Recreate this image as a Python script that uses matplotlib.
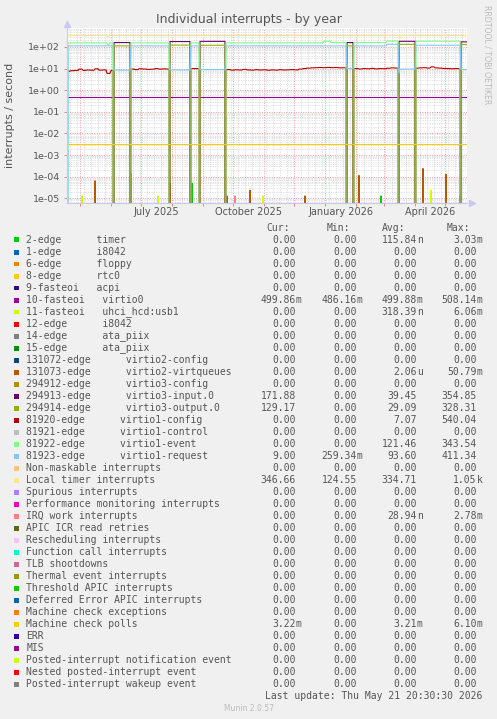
import matplotlib
matplotlib.use("Agg")
import matplotlib.pyplot as plt
import matplotlib.dates as mdates
import matplotlib.ticker as mticker
from matplotlib.patches import Rectangle
import numpy as np

# --- data ---
first_day = "2025-04-18"
last_day = "2026-05-23"

names = [
    "2-edge      timer", "1-edge      i8042", "6-edge      floppy", "8-edge      rtc0",
    "9-fasteoi   acpi", "10-fasteoi   virtio0", "11-fasteoi   uhci_hcd:usb1",
    "12-edge      i8042", "14-edge      ata_piix", "15-edge      ata_piix",
    "131072-edge      virtio2-config", "131073-edge      virtio2-virtqueues",
    "294912-edge      virtio3-config", "294913-edge      virtio3-input.0",
    "294914-edge      virtio3-output.0", "81920-edge      virtio1-config",
    "81921-edge      virtio1-control", "81922-edge      virtio1-event",
    "81923-edge      virtio1-request", "Non-maskable interrupts", "Local timer interrupts",
    "Spurious interrupts", "Performance monitoring interrupts", "IRQ work interrupts",
    "APIC ICR read retries", "Rescheduling interrupts", "Function call interrupts",
    "TLB shootdowns", "Thermal event interrupts", "Threshold APIC interrupts",
    "Deferred Error APIC interrupts", "Machine check exceptions", "Machine check polls",
    "ERR", "MIS", "Posted-interrupt notification event", "Nested posted-interrupt event",
    "Posted-interrupt wakeup event",
]
colors = [
    "#00CC00", "#0066B3", "#FF8000", "#FFCC00", "#330099", "#990099", "#CCFF00", "#FF0000",
    "#808080", "#008F00", "#00487D", "#B35A00", "#B38F00", "#6B006B", "#8FB300", "#B30000",
    "#BEBEBE", "#80FF80", "#80C9FF", "#FFC080", "#FFE680", "#AA80FF", "#EE00CC", "#FF8080",
    "#666600", "#FFBFFF", "#00FFCC", "#CC6699", "#999900",
    "#00CC00", "#0066B3", "#FF8000", "#FFCC00", "#330099", "#990099", "#CCFF00", "#FF0000",
    "#808080",
]
z = "0.00"
cur_vals = [z, z, z, z, z, "499.86m", z, z, z, z, z, z, z, "171.88", "129.17", z, z, z, "9.00",
            z, "346.66", z, z, z, z, z, z, z, z, z, z, z, "3.22m", z, z, z, z, z]
min_vals = [z, z, z, z, z, "486.16m", z, z, z, z, z, z, z, z, z, z, z, z, "259.34m",
            z, "124.55", z, z, z, z, z, z, z, z, z, z, z, z, z, z, z, z, z]
avg_vals = ["115.84n", z, z, z, z, "499.88m", "318.39n", z, z, z, z, "2.06u", z, "39.45", "29.09",
            "7.07", z, "121.46", "93.60", z, "334.71", z, z, "28.94n", z, z, z, z, z, z, z, z,
            "3.21m", z, z, z, z, z]
max_vals = ["3.03m", z, z, z, z, "508.14m", "6.06m", z, z, z, z, "50.79m", z, "354.85", "328.31",
            "540.04", z, "343.54", "411.34", z, "1.05k", z, z, "2.78m", z, z, z, z, z, z, z, z,
            "6.10m", z, z, z, z, z]

# periods where virtio3 is busy and virtio1-event/config are idle
period_start = ["2025-06-04", "2025-07-30", "2025-08-29", "2026-01-23", "2026-03-16", "2026-05-17"]
period_end = ["2025-06-21", "2025-08-20", "2025-09-24", "2026-01-30", "2026-04-02", "2026-05-24"]
virtio3_input = [160, 178, 182, 160, 183, 172]
virtio3_output = [112, 122, 120, 112, 133, 129]
virtio1_request_low = [8.5, 8.7, 9.0, 10.0, 9.5, 9.0]

# normal levels (from date on)
event_dates = ["2025-04-18", "2025-04-19", "2025-05-29", "2025-05-31", "2025-12-31", "2026-01-07", "2026-03-04", "2026-04-02"]
event_vals = [0, 155, 125, 155, 185, 160, 190, 185]
request_dates = ["2025-04-18", "2025-04-19", "2026-03-04", "2026-04-02"]
request_vals = [0, 112, 133, 120]

# virtio1-config, one reading every 4 days
config_every = 4
config_vals = [
    7.6, 8.0, 8.2, 9.5, 8.3, 8.6, 8.4, 9.8, 8.5, 8.7, 6.0, 8.2, 0, 0, 0, 0,
    9.5, 9.0, 9.8, 9.6, 9.2, 9.4, 10.0, 9.5, 9.7, 9.5, 0, 0, 0, 0, 0,
    10.0, 10.0, 9.8, 0, 0, 0, 0, 0, 9.0,
    9.0, 8.5, 8.8, 8.6, 9.2, 8.7, 8.5, 8.9, 8.6, 8.8, 8.4, 8.7, 8.5, 8.9, 8.6, 8.8, 9.0, 8.7,
    9.5, 10.0, 10.5, 10.8, 11.0, 11.2, 11.0, 11.3, 11.0, 11.2, 10.8, 11.0, 0,
    10.0, 10.0, 9.6, 10.0, 9.8, 10.2, 9.7, 10.0, 9.9, 10.4, 10.8, 10.6, 0, 0, 0, 0,
    10.5, 10.8, 11.0, 10.6, 12.0, 10.8, 10.5, 10.2, 10.0, 9.8, 10.0, 9.7, 0, 0,
]

local_timer_base = 335
local_dip_dates = ["2025-05-29", "2026-03-17"]
local_dip_vals = [285, 250]
virtio0_level = 0.4999
mc_polls_level = 3.21e-3

timer_dates = ["2025-08-21", "2026-02-26", "2026-05-16"]
timer_vals = [5e-5, 1.3e-5, 1.3e-5]
uhci_dates = ["2025-05-03", "2025-07-18", "2025-10-31", "2026-04-17"]
uhci_vals = [1.3e-5, 1.3e-5, 1.3e-5, 2.4e-5]
vq_dates = ["2025-04-18", "2025-05-16", "2025-06-21", "2025-07-30", "2025-09-25", "2025-10-18",
            "2025-12-12", "2026-02-04", "2026-04-09", "2026-05-02"]
vq_vals = [2.4e-5, 6.5e-5, 1.4e-4, 5.3e-5, 1.3e-5, 2.4e-5, 1.3e-5, 1.15e-4, 2.4e-4, 1.3e-4]
irq_work_dates = ["2025-10-03"]
irq_work_vals = [1.3e-5]

month_labels = ["July 2025", "October 2025", "January 2026", "April 2026"]
month_label_dates = ["2025-07-16T12", "2025-10-16T12", "2026-01-16T12", "2026-04-16T00"]

# --- build daily series ---
days = np.arange(np.datetime64(first_day), np.datetime64(last_day) + 1)
n = len(days)
series = [np.zeros(n) for _ in names]


def steps(dates, vals):
    idx = np.searchsorted(np.array(dates, dtype="datetime64[D]"), days, side="right") - 1
    return np.array(vals, dtype=float)[idx]


def events(dates, vals):
    out = np.zeros(n)
    for d, v in zip(dates, vals):
        out[days == np.datetime64(d)] = v
    return out


event = steps(event_dates, event_vals)
request = steps(request_dates, request_vals)
config = np.repeat(config_vals, config_every)[:n].astype(float)
inp = np.zeros(n)
outp = np.zeros(n)
for i, (a, b) in enumerate(zip(period_start, period_end)):
    m = (days >= np.datetime64(a)) & (days < np.datetime64(b))
    event[m] = 0
    config[m] = 0
    request[m] = virtio1_request_low[i]
    inp[m] = virtio3_input[i]
    outp[m] = virtio3_output[i]
request[days == np.datetime64("2026-03-16")] = 6.3

local = np.full(n, float(local_timer_base))
for d, v in zip(local_dip_dates, local_dip_vals):
    local[days == np.datetime64(d)] = v

series[0] = events(timer_dates, timer_vals)
series[5] = np.full(n, virtio0_level)
series[6] = events(uhci_dates, uhci_vals)
series[11] = events(vq_dates, vq_vals)
series[13] = inp
series[14] = outp
series[15] = config
series[17] = event
series[18] = request
series[20] = local
series[23] = events(irq_work_dates, irq_work_vals)
series[32] = np.full(n, mc_polls_level)

# --- figure ---
W, H = 497, 719
bg = "#F0F0F0"
txt = "#555555"
fig = plt.figure(figsize=(W / 100, H / 100), dpi=100, facecolor=bg)
ax = fig.add_axes([67 / W, 1 - 203.3 / H, 400 / W, 175 / H])
ax.set_facecolor("white")

for y, c in zip(series, colors):
    ax.plot(days, y, color=c, lw=0.8)

ax.set_yscale("log", nonpositive="clip")
ax.set_ylim(5.9e-6, 730)
ax.set_xlim(np.datetime64(first_day), np.datetime64(last_day))

ax.yaxis.set_major_locator(mticker.LogLocator(base=10, numticks=20))
ax.yaxis.set_minor_locator(mticker.LogLocator(base=10, subs=np.arange(2, 10), numticks=20))
ax.yaxis.set_major_formatter(mticker.FuncFormatter(lambda v, p: f"{v:.0e}"))
ax.yaxis.set_minor_formatter(mticker.NullFormatter())
ax.xaxis.set_major_locator(mdates.MonthLocator())
ax.xaxis.set_minor_locator(mdates.WeekdayLocator(byweekday=mdates.MO))
ax.xaxis.set_major_formatter(mticker.NullFormatter())

ax.set_axisbelow(True)
ax.grid(True, which="major", color="#F08080", lw=0.5, ls=(0, (1.5, 2)))
ax.grid(True, which="minor", color="#C8C8C8", lw=0.5, ls=(0, (1, 1.5)))
ax.tick_params(which="major", length=2, width=0.7, color="#F08080", labelsize=6.8, labelcolor=txt, pad=3)
ax.tick_params(which="minor", length=0)

for s in ["top", "right"]:
    ax.spines[s].set_visible(False)
for s in ["left", "bottom"]:
    ax.spines[s].set_color("#C8C8F0")
    ax.spines[s].set_linewidth(0.8)
ax.plot([1.012], [0], marker=">", ms=4, color="#C8C8F0", transform=ax.transAxes, clip_on=False)
ax.plot([0], [1.025], marker="^", ms=4, color="#C8C8F0", transform=ax.transAxes, clip_on=False)

for d, s in zip(month_label_dates, month_labels):
    ax.text(mdates.date2num(np.datetime64(d)), -0.051, s, transform=ax.get_xaxis_transform(),
            ha="center", va="center", fontsize=7, color=txt)

fig.text(0.5, 1 - 20 / H, "Individual interrupts - by year", ha="center", va="center", fontsize=9, color=txt)
fig.text(10.5 / W, 1 - 115 / H, "interrupts / second", rotation=90, ha="center", va="center",
         fontsize=8, color=txt)
fig.text(487.5 / W, 1 - 5 / H, "RRDTOOL / TOBI OETIKER", rotation=270, ha="center", va="top",
         fontsize=5.6, color="#BBBBBB")

# --- legend table ---
mono = "DejaVu Sans Mono"
fs = 7
for x, h in zip([266.7, 327, 382, 446.7], ["Cur:", "Min:", "Avg:", "Max:"]):
    fig.text(x / W, 1 - 228 / H, h, family=mono, fontsize=fs, color=txt, va="center")

col_ends = [295.7, 356.7, 416.7, 476.7]
for i, name in enumerate(names):
    y = 240 + 12 * i
    fig.add_artist(Rectangle((14 / W, 1 - (y + 2.5) / H), 5 / W, 5 / H, transform=fig.transFigure,
                             facecolor=colors[i], edgecolor="none"))
    fig.text(26.3 / W, 1 - y / H, name, family=mono, fontsize=fs, color=txt, va="center")
    for xe, col in zip(col_ends, [cur_vals, min_vals, avg_vals, max_vals]):
        v = col[i]
        num, suf = (v[:-1], v[-1]) if v[-1].isalpha() else (v, "")
        fig.text(xe / W, 1 - y / H, num, family=mono, fontsize=fs, color=txt, va="center", ha="right")
        if suf:
            fig.text(xe / W, 1 - y / H, suf, family=mono, fontsize=fs, color=txt, va="center", ha="left")

fig.text(482.7 / W, 1 - 696 / H, "Last update: Thu May 21 20:30:30 2026", family=mono, fontsize=fs,
         color=txt, va="center", ha="right")
fig.text(0.5, 1 - 708.5 / H, "Munin 2.0.57", fontsize=5.5, color="#BBBBBB", ha="center", va="center")

fig.savefig("out.png", dpi=100, facecolor=bg)
